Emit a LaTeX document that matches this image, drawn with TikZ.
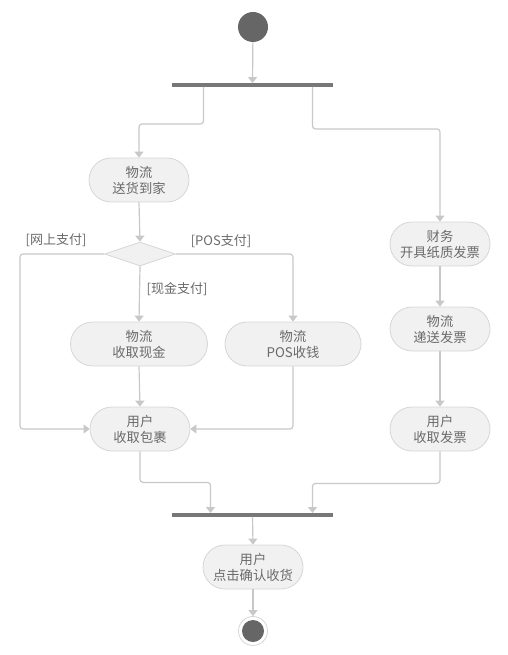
\documentclass[tikz,border=0pt]{standalone}
\usepackage{fontspec}
\setmainfont{Noto Sans CJK SC}
\usetikzlibrary{arrows.meta,shapes.geometric}
\definecolor{txt}{HTML}{6A6A6A}
\definecolor{lnc}{HTML}{C8C8C8}
\definecolor{boxf}{HTML}{F1F1F1}
\definecolor{boxd}{HTML}{D6D6D6}
\definecolor{dark}{HTML}{666666}
\definecolor{barc}{HTML}{777777}
\begin{document}
\begin{tikzpicture}[x=1pt,y=-1pt,
  act/.style={draw=boxd,fill=boxf,rounded corners=22pt,minimum height=44pt,align=center,
    text=txt,font=\fontsize{13.3}{16}\selectfont,inner sep=2pt,line width=0.8pt},
  barnode/.style={fill=barc,minimum width=161pt,minimum height=3.5pt,inner sep=0pt},
  dec/.style={diamond,draw=boxd,fill=boxf,minimum width=71pt,minimum height=24pt,inner sep=0pt,aspect=3,line width=0.8pt},
  lbl/.style={text=txt,font=\fontsize{13}{15}\selectfont},
  arr/.style={draw=lnc,line width=1.2pt,rounded corners=3pt,-{Triangle[width=9pt,length=6pt]}}]
\useasboundingbox (0,0) rectangle (507,655);
\node[circle,fill=dark,minimum size=30pt,inner sep=0pt] (start) at (253,27) {};
\node[barnode] (bar1) at (252.5,85) {};
\node[act,minimum width=100pt] (ship) at (139,180) {物流\\送货到家};
\node[dec] (d) at (140,254) {};
\node[act,minimum width=137pt] (cash) at (139,344) {物流\\收取现金};
\node[act,minimum width=136pt] (pos) at (293,344) {物流\\POS收钱};
\node[act,minimum width=100pt] (u1) at (140,429) {用户\\收取包裹};
\node[act,minimum width=100pt] (fin) at (440,244) {财务\\开具纸质发票};
\node[act,minimum width=100pt] (deliv) at (440,329) {物流\\递送发票};
\node[act,minimum width=100pt] (recv) at (440,429) {用户\\收取发票};
\node[barnode] (bar2) at (252.5,515) {};
\node[act,minimum width=100pt] (conf) at (253,567) {用户\\点击确认收货};
\node[circle,draw=boxd,fill=white,line width=0.8pt,minimum size=29pt,inner sep=0pt] (endc) at (253,631) {};
\node[circle,fill=dark,minimum size=22pt,inner sep=0pt] (endi) at (253,631) {};
\coordinate (cl) at (20,254);
\node[lbl] (l1) at (56,240) {[网上支付]};
\node[lbl] (l2) at (221,241) {[POS支付]};
\node[lbl] (l3) at (177,289) {[现金支付]};
\draw[arr] (start) -- (bar1);
\draw[arr] ([xshift=-49pt]bar1.south) -- ++(0,37) -| (ship.north);
\draw[arr] ([xshift=60pt]bar1.south) -- ++(0,42) -| (fin.north);
\draw[arr] (ship.south) -- (d.north);
\draw[arr] (d.west) -- (cl) |- (u1.west);
\draw[arr] (d.east) -| (pos.north);
\draw[arr] (d.south) -- (cash.north);
\draw[arr] (cash.south) -- (u1.north);
\draw[arr] (pos.south) |- (u1.east);
\draw[arr] (fin.south) -- (deliv.north);
\draw[arr] (deliv.south) -- (recv.north);
\draw[arr] (u1.south) -- ++(0,31) -| ([xshift=-42pt]bar2.north);
\draw[arr] (recv.south) -- ++(0,32) -| ([xshift=60pt]bar2.north);
\draw[arr] (bar2.south) -- (conf.north);
\draw[arr] (conf.south) -- (endc.north);
\end{tikzpicture}
\end{document}
